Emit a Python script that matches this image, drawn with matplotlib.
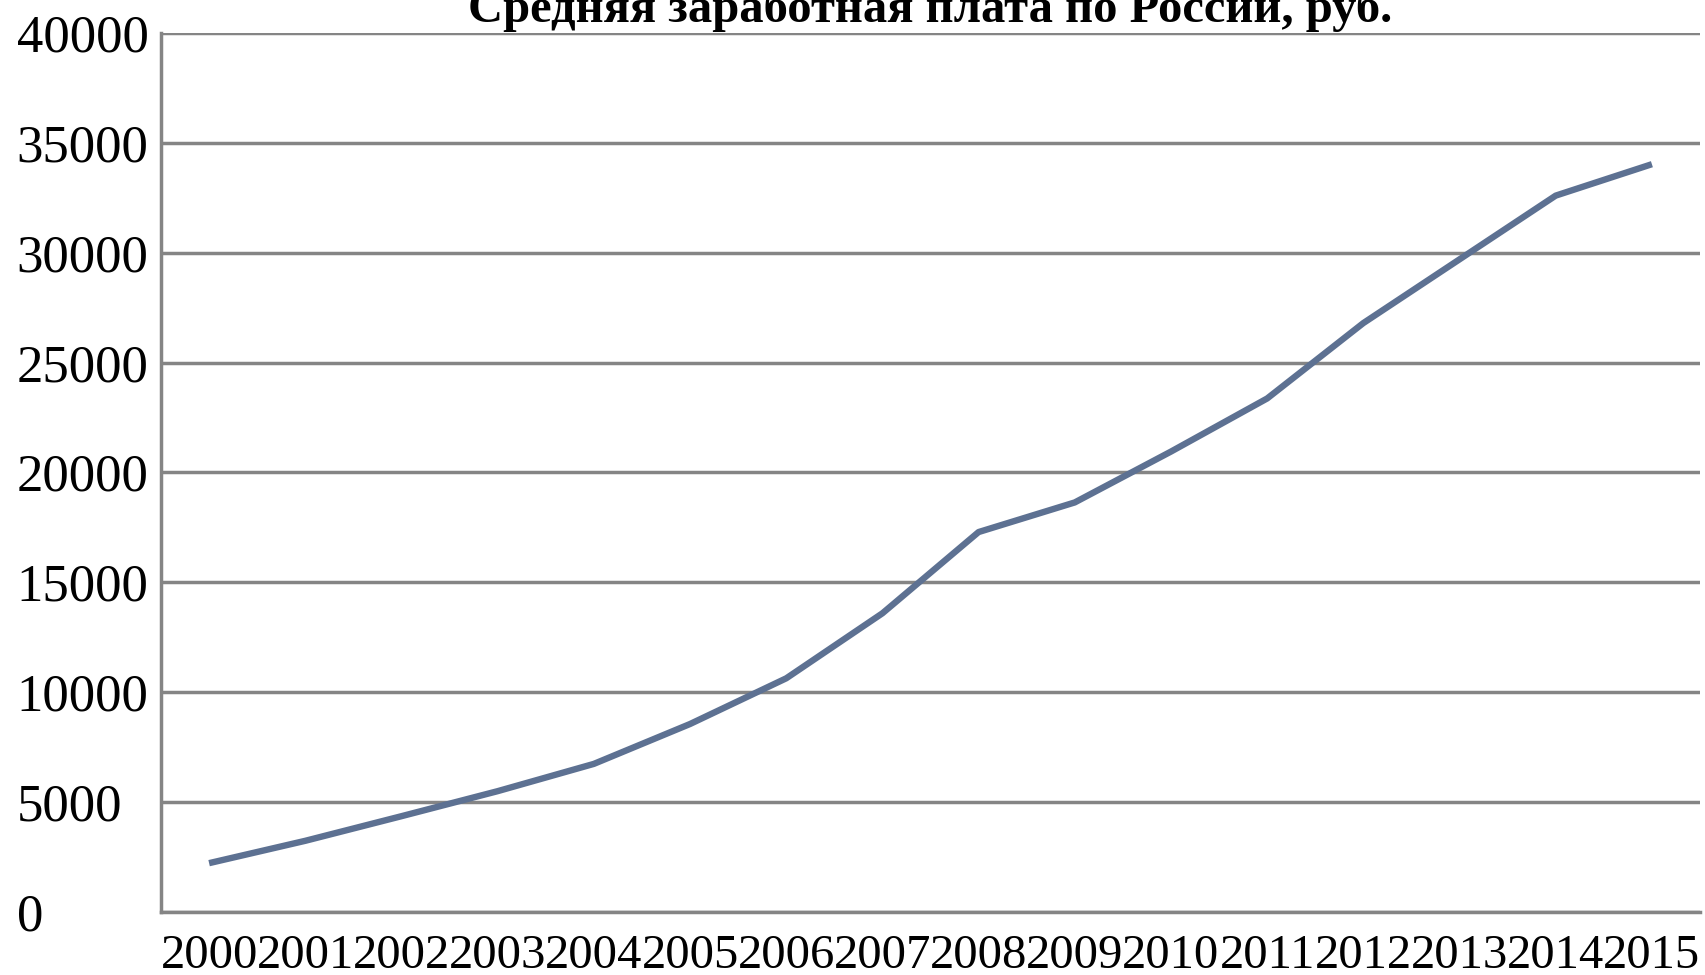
import matplotlib.pyplot as plt
import numpy as np

# Average monthly wage in Russia, roubles
years = ['2000', '2001', '2002', '2003', '2004', '2005', '2006', '2007',
         '2008', '2009', '2010', '2011', '2012', '2013', '2014', '2015']
wages = [2223, 3240, 4360, 5499, 6740, 8555, 10634, 13593,
         17290, 18638, 20952, 23369, 26800, 29700, 32600, 34030]
yticks = [0, 5000, 10000, 15000, 20000, 25000, 30000, 35000, 40000]
title = 'Средняя заработная плата по России, руб.'

plt.rcParams['font.family'] = ['Liberation Serif', 'DejaVu Serif']

fig = plt.figure(figsize=(17.06, 9.75), dpi=100)
ax = fig.add_axes([161 / 1706, 1 - 912 / 975, (1700 - 161) / 1706, (912 - 33) / 975])

x = np.arange(len(years))
ax.plot(x, wages, color='#5d7192', lw=4.6, solid_capstyle='butt', zorder=3)

ax.set_xlim(-0.5, len(years) - 0.5)
ax.set_ylim(0, 40000)
ax.set_yticks(yticks)
ax.set_yticklabels([str(t) for t in yticks], fontsize=38, ha='left')
ax.set_xticks(x)
ax.set_xticklabels(years, fontsize=35)
ax.tick_params(length=0)
ax.tick_params(axis='y', pad=104)
ax.tick_params(axis='x', pad=16)

# horizontal gridlines
ax.yaxis.grid(True, color='#858585', lw=2.5)
ax.set_axisbelow(True)
for s in ['top', 'right']:
    ax.spines[s].set_visible(False)
for s in ['left', 'bottom']:
    ax.spines[s].set_color('#858585')
    ax.spines[s].set_linewidth(2.5)

fig.text(930 / 1706, 1 - 22 / 975, title, ha='center', va='baseline',
         fontsize=35, fontweight='bold')

fig.savefig('out.png', dpi=100)
